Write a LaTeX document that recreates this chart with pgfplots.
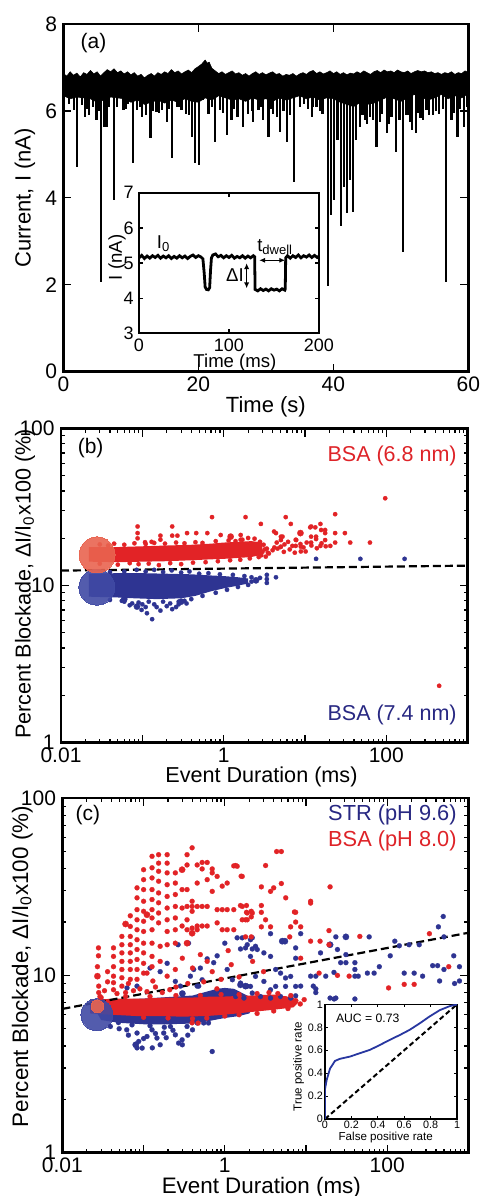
\documentclass[border=0pt]{standalone}
\usepackage{fontspec}
\setmainfont{Liberation Sans}
\usepackage{pgfplots}
\pgfplotsset{compat=1.18}
\usetikzlibrary{arrows.meta}

\definecolor{myred}{RGB}{226,35,38}
\definecolor{myblue}{RGB}{46,52,146}
\definecolor{bigred}{RGB}{233,100,80}
\definecolor{bigblue}{RGB}{64,74,164}
\definecolor{txtred}{RGB}{222,35,40}
\definecolor{txtblue}{RGB}{40,40,130}
\definecolor{rocblue}{RGB}{40,55,160}

\pgfplotsset{
  panel/.style={scale only axis, anchor=south west,
    axis line style={line width=1.2pt},
    tick style={black, line width=0.6pt},
    major tick length=4pt, minor tick length=2pt,
    tick label style={font=\fontsize{10.5}{12}\selectfont},
    label style={font=\fontsize{11}{13}\selectfont},
    /pgf/number format/assume math mode=true},
  mainticks/.style={tick label style={inner sep=0.5pt},
    xticklabel style={yshift=-2pt}, yticklabel style={xshift=-2.5pt}},
  logpanel/.style={panel, mainticks,
    xmin=0.01, xmax=1000, ymin=1, ymax=100,
    xtick={0.01,0.1,1,10,100,1000}, xticklabels={0.01,,1,,100,},
    minor xtick={0.02,0.03,0.04,0.05,0.06,0.07,0.08,0.09,0.2,0.3,0.4,0.5,0.6,0.7,0.8,0.9,2,3,4,5,6,7,8,9,20,30,40,50,60,70,80,90,200,300,400,500,600,700,800,900},
    ytick={1,10,100}, yticklabels={1,10,100},
    minor ytick={2,3,4,5,6,7,8,9,20,30,40,50,60,70,80,90},
    xlabel={Event Duration (ms)},
    ylabel={Percent Blockade, ΔI/I\textsubscript{0}x100 (\%)}},
  dot/.style={only marks, mark=*, mark size=1.1pt, color=#1, mark options={solid, line width=0.1pt}},
  mdot/.style={only marks, mark=*, mark size=1.6pt, color=#1, mark options={solid, line width=0.1pt}},
  big/.style={only marks, mark=*, color=#1, mark options={solid, line width=0pt, opacity=0.9}},
}

\begin{document}
\begin{tikzpicture}
\useasboundingbox (0,0) rectangle (240pt,598pt);

% ---------------- (a) current trace
\begin{axis}[panel, mainticks, at={(31.7pt,412.2pt)}, width=202.5pt, height=173.8pt,
  xmin=0, xmax=60, ymin=0, ymax=8, xtick={0,20,40,60}, ytick={0,2,4,6,8},
  xlabel={Time (s)}, ylabel={Current, I (nA)},
  xlabel style={at={(axis description cs:0.5,-0.1015)}, anchor=center},
  ylabel style={at={(axis description cs:-0.095,0.5)}, anchor=center}]
% noise band: upper edge then lower edge
\addplot[fill=black, draw=black, line width=0.3pt] coordinates {
(0,6.86) (0.5,6.8) (1,6.9) (1.5,6.82) (2,6.87) (2.5,6.78) (3,6.88) (3.5,6.84) (4,6.93) (4.5,6.85)
(5,6.9) (5.5,6.8) (6,6.88) (6.5,6.95) (7,6.9) (7.5,6.97) (8,6.88) (8.5,6.92) (9,6.85) (9.5,6.9)
(10,6.83) (10.5,6.88) (11,6.8) (11.5,6.84) (12,6.76) (12.5,6.82) (13,6.86) (13.5,6.8) (14,6.88) (14.5,6.84)
(15,6.9) (15.5,6.86) (16,6.95) (16.5,6.88) (17,6.92) (17.5,6.85) (18,6.9) (18.5,6.94) (19,6.88) (19.5,6.97)
(20,7.02) (20.5,7.08) (21,7.17) (21.3,7.1) (21.6,7.12) (22,6.98) (22.5,6.92) (23,6.86) (23.5,6.9) (24,6.84)
(24.5,6.88) (25,6.92) (25.5,6.85) (26,6.88) (26.5,6.82) (27,6.86) (27.5,6.8) (28,6.86) (28.5,6.9) (29,6.84)
(29.5,6.88) (30,6.83) (30.5,6.87) (31,6.9) (31.5,6.84) (32,6.86) (32.5,6.8) (33,6.84) (33.5,6.82) (34,6.86)
(34.5,6.8) (35,6.85) (35.5,6.88) (36,6.84) (36.5,6.9) (37,6.93) (37.5,6.86) (38,6.9) (38.5,6.85) (39,6.88)
(39.5,6.92) (40,6.86) (40.5,6.9) (41,6.84) (41.5,6.88) (42,6.83) (42.5,6.87) (43,6.85) (43.5,6.9) (44,6.86)
(44.5,6.92) (45,6.88) (45.5,6.84) (46,6.9) (46.5,6.93) (47,6.88) (47.5,6.94) (48,6.9) (48.5,6.92) (49,6.88)
(49.5,6.94) (50,6.9) (50.5,6.88) (51,6.92) (51.5,6.86) (52,6.9) (52.5,6.93) (53,6.9) (53.5,6.92) (54,6.88)
(54.5,6.9) (55,6.86) (55.5,6.88) (56,6.84) (56.5,6.88) (57,6.86) (57.5,6.9) (58,6.84) (58.5,6.88) (59,6.86)
(59.5,6.92) (60,6.88)
(60,6.4) (59,6.3) (58,6.35) (57,6.28) (56,6.38) (55,6.3) (54,6.25) (53,6.32) (52,6.38) (51,6.3)
(50,6.22) (49,6.28) (48,6.32) (47,6.25) (46,6.18) (45,6.15) (44,6.2) (43,6.1) (42,6.15) (41,6.2)
(40,6.28) (39,6.3) (38,6.25) (37,6.32) (36,6.28) (35,6.35) (34,6.3) (33,6.25) (32,6.3) (31,6.22)
(30,6.28) (29,6.25) (28,6.3) (27,6.22) (26,6.28) (25,6.25) (24,6.3) (23,6.35) (22,6.25) (21,6.3)
(20,6.2) (19,6.22) (18,6.28) (17,6.2) (16,6.25) (15,6.18) (14,6.25) (13,6.2) (12,6.15) (11,6.25)
(10,6.2) (9,6.28) (8,6.3) (7,6.32) (6,6.25) (5,6.2) (4,6.28) (3,6.3) (2,6.32) (1,6.28) (0,6.35)};
% blockade spikes (start of event, deepest current)
\addplot[black, line width=1.1pt, unbounded coords=jump] coordinates {
(0.35,6.5) (0.35,6.4) (0.35,nan) (0.8,6.5) (0.8,6.15) (0.8,nan) (1.23,6.5) (1.23,6.29) (1.23,nan)
(1.6,6.5) (1.6,6.02) (1.6,nan) (2.07,6.5) (2.07,4.72) (2.07,nan) (2.7,6.5) (2.7,6.13) (2.7,nan)
(3.2,6.5) (3.2,5.87) (3.2,nan) (3.5,6.5) (3.5,6.05) (3.5,nan) (3.85,6.5) (3.85,5.9) (3.85,nan)
(4.4,6.5) (4.4,6.1) (4.4,nan) (4.9,6.5) (4.9,5.79) (4.9,nan) (5.2,6.5) (5.2,6.0) (5.2,nan)
(5.58,6.5) (5.58,2.07) (5.58,nan) (6.0,6.5) (6.0,5.64) (6.0,nan) (6.4,6.5) (6.4,5.64) (6.4,nan)
(6.8,6.5) (6.8,6.1) (6.8,nan) (7.5,6.5) (7.5,3.95) (7.5,nan) (8.0,6.5) (8.0,6.1) (8.0,nan)
(8.9,6.5) (8.9,6.02) (8.9,nan) (9.2,6.5) (9.2,6.05) (9.2,nan) (9.5,6.5) (9.5,6.17) (9.5,nan)
(10.27,6.5) (10.27,4.79) (10.27,nan) (10.96,6.5) (10.96,6.02) (10.96,nan) (11.3,6.5) (11.3,6.1) (11.3,nan)
(11.6,6.5) (11.6,5.87) (11.6,nan) (12.25,6.5) (12.25,5.9) (12.25,nan) (12.9,6.5) (12.9,5.37) (12.9,nan)
(13.3,6.5) (13.3,6.0) (13.3,nan) (13.8,6.5) (13.8,5.98) (13.8,nan) (14.2,6.5) (14.2,5.95) (14.2,nan)
(14.57,6.5) (14.57,6.02) (14.57,nan) (15.3,6.5) (15.3,5.75) (15.3,nan) (15.7,6.5) (15.7,6.05) (15.7,nan)
(16.1,6.5) (16.1,4.91) (16.1,nan) (16.8,6.5) (16.8,6.1) (16.8,nan) (17.2,6.5) (17.2,6.1) (17.2,nan)
(17.5,6.5) (17.5,6.02) (17.5,nan) (18.2,6.5) (18.2,5.94) (18.2,nan) (18.6,6.5) (18.6,5.9) (18.6,nan)
(19.0,6.5) (19.0,5.41) (19.0,nan) (19.5,6.5) (19.5,4.81) (19.5,nan) (20.1,6.5) (20.1,4.75) (20.1,nan)
(20.7,6.5) (20.7,6.25) (20.7,nan) (21.5,6.5) (21.5,5.94) (21.5,nan) (22.0,6.5) (22.0,6.1) (22.0,nan)
(22.5,6.5) (22.5,5.29) (22.5,nan) (23.2,6.5) (23.2,6.02) (23.2,nan) (23.7,6.5) (23.7,5.95) (23.7,nan)
(24.2,6.5) (24.2,5.44) (24.2,nan) (24.9,6.5) (24.9,5.79) (24.9,nan) (25.3,6.5) (25.3,6.05) (25.3,nan)
(25.8,6.5) (25.8,5.87) (25.8,nan) (26.6,6.5) (26.6,5.64) (26.6,nan) (27.4,6.5) (27.4,5.94) (27.4,nan)
(27.9,6.5) (27.9,6.0) (27.9,nan) (28.1,6.5) (28.1,5.75) (28.1,nan) (28.9,6.5) (28.9,6.02) (28.9,nan)
(29.2,6.5) (29.2,6.1) (29.2,nan) (29.6,6.5) (29.6,5.79) (29.6,nan) (30.4,6.5) (30.4,5.41) (30.4,nan)
(30.8,6.5) (30.8,6.05) (30.8,nan) (31.1,6.5) (31.1,5.94) (31.1,nan) (31.6,6.5) (31.6,5.85) (31.6,nan)
(32.1,6.5) (32.1,5.52) (32.1,nan) (32.6,6.5) (32.6,6.0) (32.6,nan) (33.1,6.5) (33.1,5.29) (33.1,nan)
(33.6,6.5) (33.6,5.9) (33.6,nan) (34.2,6.5) (34.2,4.37) (34.2,nan) (35.0,6.5) (35.0,6.1) (35.0,nan)
(35.65,6.5) (35.65,6.17) (35.65,nan) (36.2,6.5) (36.2,6.05) (36.2,nan) (36.8,6.5) (36.8,5.87) (36.8,nan)
(37.0,6.5) (37.0,6.1) (37.0,nan) (37.5,6.5) (37.5,6.1) (37.5,nan) (38.0,6.5) (38.0,6.0) (38.0,nan)
(38.4,6.5) (38.4,5.94) (38.4,nan) (39.2,6.5) (39.2,1.96) (39.2,nan) (39.7,6.5) (39.7,3.6) (39.7,nan)
(40.1,6.5) (40.1,3.95) (40.1,nan) (40.6,6.5) (40.6,5.33) (40.6,nan) (41.1,6.5) (41.1,3.34) (41.1,nan)
(41.6,6.5) (41.6,4.26) (41.6,nan) (42.0,6.5) (42.0,3.64) (42.0,nan) (42.5,6.5) (42.5,4.41) (42.5,nan)
(42.9,6.5) (42.9,3.68) (42.9,nan) (43.4,6.5) (43.4,5.33) (43.4,nan) (43.95,6.5) (43.95,5.64) (43.95,nan)
(44.3,6.5) (44.3,5.9) (44.3,nan) (44.7,6.5) (44.7,5.79) (44.7,nan) (45.0,6.5) (45.0,5.7) (45.0,nan)
(45.4,6.5) (45.4,5.87) (45.4,nan) (45.9,6.5) (45.9,5.8) (45.9,nan) (46.4,6.5) (46.4,5.18) (46.4,nan)
(46.9,6.5) (46.9,5.75) (46.9,nan) (47.2,6.5) (47.2,5.94) (47.2,nan) (47.9,6.5) (47.9,5.48) (47.9,nan)
(48.2,6.5) (48.2,5.7) (48.2,nan) (48.6,6.5) (48.6,5.87) (48.6,nan) (49.3,6.5) (49.3,5.06) (49.3,nan)
(49.8,6.5) (49.8,5.8) (49.8,nan) (50.3,6.5) (50.3,2.76) (50.3,nan) (50.8,6.5) (50.8,5.9) (50.8,nan)
(51.0,6.5) (51.0,5.9) (51.0,nan) (51.3,6.5) (51.3,5.75) (51.3,nan) (51.6,6.5) (51.6,5.56) (51.6,nan)
(52.2,6.5) (52.2,5.48) (52.2,nan) (52.5,6.5) (52.5,5.95) (52.5,nan) (52.9,6.5) (52.9,5.83) (52.9,nan)
(53.3,6.5) (53.3,5.8) (53.3,nan) (53.8,6.5) (53.8,6.02) (53.8,nan) (54.2,6.5) (54.2,5.9) (54.2,nan)
(54.8,6.5) (54.8,5.9) (54.8,nan) (55.2,6.5) (55.2,6.0) (55.2,nan) (55.6,6.5) (55.6,5.94) (55.6,nan)
(56.2,6.5) (56.2,6.05) (56.2,nan) (56.7,6.5) (56.7,2.07) (56.7,nan) (57.5,6.5) (57.5,5.79) (57.5,nan)
(57.9,6.5) (57.9,5.95) (57.9,nan) (58.4,6.5) (58.4,5.41) (58.4,nan) (58.8,6.5) (58.8,6.05) (58.8,nan)
(59.3,6.5) (59.3,5.64) (59.3,nan) (59.75,6.5) (59.75,6.1)};
\node[anchor=west, font=\fontsize{10.5}{12}\selectfont] at (axis description cs:0.025,0.945) {(a)};
\end{axis}

% ---------------- (a) inset
\begin{axis}[panel, at={(69.5pt,431.3pt)}, width=90pt, height=70.3pt,
  xmin=0, xmax=200, ymin=3, ymax=7, xtick={0,100,200}, ytick={3,4,5,6,7},
  axis line style={line width=0.9pt}, major tick length=2pt,
  axis background/.style={fill=white},
  tick label style={font=\fontsize{9}{10}\selectfont, inner sep=0.5pt},
  xticklabel style={yshift=-2pt}, yticklabel style={xshift=-2pt},
  label style={font=\fontsize{9.3}{10}\selectfont, inner sep=0.5pt},
  xlabel={Time (ms)}, ylabel={I (nA)},
  xlabel style={at={(axis description cs:0.533,-0.205)}, anchor=center},
  ylabel style={at={(axis description cs:-0.122,0.54)}, anchor=center}]
\addplot[black, line width=1.4pt] coordinates {
(0,5.15) (3,5.22) (6,5.13) (9,5.2) (12,5.14) (15,5.21) (18,5.16) (21,5.22) (24,5.14) (27,5.2)
(30,5.15) (33,5.21) (36,5.13) (39,5.19) (42,5.14) (45,5.21) (48,5.15) (51,5.2) (54,5.13) (57,5.19)
(60,5.23) (63,5.16) (66,5.21) (69,5.17) (71,5.12) (72.5,4.7) (73.5,4.32) (75,4.25) (77,4.24) (78.5,4.3)
(79.5,4.8) (80.5,5.15) (82,5.23) (85,5.26) (88,5.18) (91,5.22) (94,5.15) (97,5.21) (100,5.16) (103,5.22)
(106,5.14) (109,5.19) (112,5.15) (115,5.21) (118,5.14) (121,5.2) (124,5.15) (127,5.21) (128.5,5.18) (129,4.25)
(132,4.21) (135,4.27) (138,4.22) (141,4.26) (144,4.21) (147,4.27) (150,4.23) (153,4.26) (156,4.21) (159,4.27)
(162,4.23) (162.5,4.26) (163,5.15) (165,5.21) (168,5.14) (171,5.21) (174,5.16) (177,5.23) (180,5.15) (183,5.21)
(186,5.17) (189,5.23) (192,5.16) (195,5.22) (198,5.16) (200,5.2)};
\draw[{Latex[length=3pt,width=2.6pt]}-{Latex[length=3pt,width=2.6pt]}, line width=0.6pt]
  (axis cs:133.5,5.08) -- (axis cs:162.5,5.08);
\draw[{Latex[length=3pt,width=2.6pt]}-{Latex[length=3pt,width=2.6pt]}, line width=0.6pt]
  (axis cs:119.6,5.0) -- (axis cs:119.6,4.28);
\node[anchor=base west, font=\fontsize{9.3}{10}\selectfont, inner sep=0pt] at (axis cs:19.5,5.42) {I\textsubscript{0}};
\node[anchor=base west, font=\fontsize{9.3}{10}\selectfont, inner sep=0pt] at (axis cs:131,5.34) {t\textsubscript{dwell}};
\node[anchor=east, font=\fontsize{9.3}{10}\selectfont, inner sep=0.5pt] at (axis cs:118,4.66) {ΔI};
\end{axis}

% ---------------- (b) BSA at two pore sizes
\begin{loglogaxis}[logpanel, at={(30.5pt,226.7pt)}, width=203.3pt, height=157pt,
  label style={font=\fontsize{10.8}{13}\selectfont},
  xlabel style={at={(axis description cs:0.493,-0.108)}, anchor=center},
  ylabel style={at={(axis description cs:-0.0885,0.505)}, anchor=center}]
% blue: BSA (7.4 nm)
\addplot[fill=myblue, draw=none] coordinates {
(0.022,11.9) (0.05,12.0) (0.1,12.0) (0.2,11.9) (0.4,11.8) (0.7,11.6) (1.0,11.5) (1.5,11.3) (2.0,11.1)
(2.0,10.3) (1.5,10.0) (1.0,9.6) (0.7,9.2) (0.45,8.6) (0.3,8.3) (0.15,8.2) (0.08,8.3) (0.05,8.4) (0.022,8.5)};
\addplot[dot=myblue] coordinates {
(0.04,12.2) (0.06,12.3) (0.085,12.6) (0.11,12.3) (0.14,12.6) (0.18,12.2) (0.23,12.5) (0.3,12.1)
(0.38,12.3) (0.5,11.9) (0.65,12.0) (0.9,11.8) (1.3,11.7) (1.8,11.5) (2.2,11.3)
(0.04,8.1) (0.06,7.9) (0.075,7.7) (0.09,7.8) (0.1,7.6) (0.12,7.9) (0.14,7.6) (0.18,7.9) (0.22,7.7)
(0.28,7.9) (0.33,8.0) (0.4,8.2) (0.55,8.6) (0.8,9.0) (1.1,9.4) (1.5,9.8) (2.0,10.1)
(0.098,7.0) (0.114,6.67) (0.132,6.11) (0.167,6.93) (0.233,7.08) (0.28,7.6) (0.056,8.0) (0.11,7.3) (0.2,7.4)
(0.07,7.5) (0.15,7.3) (0.26,7.3) (0.35,7.7)
(3.4,10.4) (3.4,11.0) (3.4,11.7) (4.4,11.3) (2.2,10.6) (2.8,11.2)
(13.7,14.8) (48,14.8) (168,14.8)};
\addplot[mdot=myblue] coordinates {(0.086,7.35) (2.5,10.8) (0.3,7.9) (0.06,8.2)};
\addplot[big=bigblue, mark size=9pt] coordinates {(0.0276,9.77)};
% red: BSA (6.8 nm)
\addplot[fill=myred, draw=none] coordinates {
(0.022,17.6) (0.05,17.6) (0.1,17.8) (0.2,18.0) (0.4,18.2) (0.7,18.5) (1.0,18.8) (1.5,19.0) (2.2,19.2) (3.0,18.8)
(3.0,15.8) (2.2,15.2) (1.5,15.0) (1.0,14.8) (0.7,14.7) (0.4,14.5) (0.2,14.3) (0.1,14.2) (0.05,14.1) (0.022,14.2)};
\addplot[dot=myred] coordinates {
(0.03,18.3) (0.038,18.0) (0.045,18.5) (0.06,18.2) (0.08,18.6) (0.11,18.4) (0.14,18.7) (0.19,18.5)
(0.26,18.8) (0.33,18.6) (0.45,18.9) (0.55,18.7) (0.8,19.2) (1.15,19.4) (1.4,19.2) (1.7,19.6) (2.0,20.1)
(2.4,19.9) (2.8,19.0) (3.1,18.2) (3.4,17.2) (3.0,16.4) (3.6,16.0) (4.2,17.5) (4.5,18.8) (5.0,17.6)
(5.6,18.3) (6.2,19.0) (7.0,17.9) (7.8,19.5) (8.8,18.4) (9.6,17.5) (10.5,18.8) (12,18.0) (14,17.3)
(16,18.6) (18,17.8) (3.2,17.0) (3.5,16.2) (4.0,16.8) (4.6,17.2) (5.5,16.4) (6.5,17.0) (7.5,16.2)
(2.9,15.6) (3.3,15.3)
(0.03,13.8) (0.05,13.6) (0.07,13.9) (0.09,13.7) (0.12,13.8) (0.16,13.5) (0.22,13.9) (0.3,13.7)
(0.42,14.0) (0.6,14.1) (0.85,14.3) (1.2,14.5) (1.6,14.6) (2.1,14.9) (2.7,15.2)
(0.0875,23.8) (0.0875,21.6) (0.0875,20.0) (0.233,23.8) (0.233,20.8) (0.72,27.3) (1.86,27.3) (5.8,27.3)
(0.355,21.6) (0.46,21.6) (0.63,21.6) (0.167,20.8) (0.167,19.6) (0.27,20.8) (0.92,21.0) (1.62,21.0)
(1.62,19.6) (2.87,24.7) (6.7,24.7) (4.17,22.1) (5.3,20.5) (11.9,23.8) (0.108,18.9) (0.13,19.0)
(4.4,21.6) (5.06,20.5) (5.06,19.5) (5.06,17.7) (11.6,23.5) (13.4,23.5) (15.5,24.7) (23.5,28.5)
(11.9,20.5) (13.7,20.5) (15.8,22.6) (17.7,22.6) (17.7,21.6) (11.9,18.8) (13.7,19.8) (17.7,19.5)
(15.5,17.9) (20.5,17.9) (23.5,21.6) (23.5,18.8) (31,21.6) (36,18.8) (63,18.8) (7.7,19.6) (7.7,17.9)
(8.9,17.7) (8.9,16.5) (10.2,16.5) (97,36) (447,2.3)};
\addplot[mdot=myred] coordinates {(1.22,20.5) (8.8,21.6)};
\addplot[big=bigred, mark size=9pt] coordinates {(0.0278,15.7)};
\addplot[black, line width=1.1pt, dash pattern=on 4pt off 2pt] coordinates {(0.01,12.46) (1000,13.4)};
\node[anchor=west, font=\fontsize{10.5}{12}\selectfont] at (axis description cs:0.024,0.937) {(b)};
\node[anchor=east, font=\fontsize{10.75}{12}\selectfont, text=txtred, inner sep=0pt] at (axis description cs:0.974,0.912) {BSA (6.8 nm)};
\node[anchor=east, font=\fontsize{10.75}{12}\selectfont, text=txtblue, inner sep=0pt] at (axis description cs:0.974,0.088) {BSA (7.4 nm)};
\end{loglogaxis}

% ---------------- (c) STR vs BSA
\begin{loglogaxis}[logpanel, at={(31.2pt,21.7pt)}, width=203pt, height=177.2pt,
  label style={font=\fontsize{11.2}{13}\selectfont},
  xlabel style={at={(axis description cs:0.49,-0.098)}, anchor=center},
  ylabel style={at={(axis description cs:-0.099,0.525)}, anchor=center}]
% blue: STR (pH 9.6)
\addplot[big=bigblue, mark size=8pt] coordinates {(0.0266,6.0)};
\addplot[fill=myblue, draw=none] coordinates {
(0.022,7.2) (0.1,7.4) (0.4,7.7) (0.6,8.1) (0.8,8.4) (1.0,8.5) (1.3,8.4) (1.6,8.0) (2.0,7.6) (2.3,6.8)
(2.0,6.1) (1.5,5.9) (1.0,5.75) (0.6,5.5) (0.4,5.35) (0.2,5.3) (0.1,5.3) (0.05,5.4) (0.03,5.6)};
\addplot[dot=myblue, mark size=1.25pt] coordinates {
(0.266,14.9) (0.358,15.2) (0.805,12.9) (1.42,16.3) (1.64,16.3) (2.18,16.3) (1.89,14.9) (1.56,14.1)
(2.18,14.1) (2.51,14.0) (1.0,15.2) (0.607,12.4) (0.73,11.8) (0.5,11.0) (0.414,10.8) (0.377,9.9)
(0.526,9.45) (0.477,8.7) (1.07,10.8) (1.24,9.45) (1.56,9.05) (1.89,8.7) (2.18,7.95) (1.07,7.95)
(1.36,7.6) (1.72,7.45) (0.12,11.0) (0.16,10.5) (0.195,11.7) (0.246,9.25) (0.284,8.7) (0.457,8.7)
(0.083,8.7) (0.0625,8.5)
(490,21.5) (427,18.8) (500,16.5) (23.3,16.5) (60,16.5) (8.6,17.2) (3.66,17.2) (7.46,14.3) (7.46,12.5)
(15.1,13.4) (24.4,14.0) (31,13.1) (26.7,11.8) (31,11.8) (40,11.8) (40,10.8) (40,9.9) (44,9.9) (57,10.3)
(69,10.3) (80,11.2) (109,12.9) (124,15.6) (141,14.7) (186,14.9) (248,14.9) (162,10.3) (215,10.3)
(273,9.9) (363,11.35) (418,11.35) (500,10.8) (660,12.9) (776,11.2) (442,9.3) (676,9.0) (776,9.3)
(11.4,9.9) (13.2,9.9) (17.5,9.9) (22.1,10.4) (23.3,7.45) (19.8,7.45) (12.3,8.7) (13.2,8.0) (8.6,8.7)
(6.47,7.45) (22.2,7.36) (13.2,8.4) (40,7.36)
(2.07,15.9) (2.39,14.6) (1.8,14.3) (2.07,12.8) (3.03,13.4) (3.66,12.8) (4.23,10.8) (4.86,10.3)
(5.6,9.67) (6.47,9.87) (7.46,8.67) (5.6,8.67) (4.23,8.67) (3.66,8.3) (3.03,9.25) (2.39,9.87)
(2.07,8.67) (2.75,7.6) (3.66,7.45) (4.86,7.6) (7.46,7.67)
(0.039,5.15) (0.049,5.42) (0.062,4.93) (0.072,5.26) (0.083,4.73) (0.087,4.24) (0.096,3.89) (0.11,4.52)
(0.127,4.93) (0.146,4.43) (0.16,4.06) (0.177,4.73) (0.214,5.15) (0.246,4.62) (0.27,4.15) (0.298,4.33)
(0.343,5.15) (0.4,4.93) (0.70,3.72) (0.457,5.39) (0.55,5.39) (0.63,5.39) (0.083,3.9) (0.128,3.9)
(0.3,4.06) (0.05,5.0) (0.065,4.6) (0.1,4.4) (0.14,4.7) (0.19,4.45) (0.23,4.9) (0.35,4.6) (0.18,5.1) (0.12,5.2)};
\addplot[mdot=myblue] coordinates {(31,16.5) (19.8,14.9) (5.1,15.6) (5.5,15.6) (1.56,8.85) (1.8,8.7) (0.08,4.06) (0.3,7.9) (0.9,8.0)};
% red: BSA (pH 8.0)
\addplot[fill=myred, draw=none] coordinates {
(0.022,7.3) (0.05,7.4) (0.1,7.4) (0.2,7.5) (0.4,7.5) (0.7,7.6) (1.0,7.6) (2.0,7.7) (4.0,7.8) (7.0,7.5) (8,7.0)
(7.0,6.6) (4.0,6.4) (2.0,6.2) (1.0,6.0) (0.6,5.9) (0.3,5.85) (0.15,5.9) (0.08,5.9) (0.04,6.0) (0.022,6.1)};
\addplot[dot=myred, mark size=1.25pt] coordinates {
(0.0426,14.3) (0.0426,12.8) (0.0426,11.2) (0.0426,9.9) (0.0426,9.1) (0.0426,8.3)
(0.054,16.6) (0.054,14.9) (0.054,13.4) (0.054,12.0) (0.054,10.8) (0.054,9.7) (0.054,8.7)
(0.0686,21.7) (0.0686,18.9) (0.0686,16.6) (0.0686,14.9) (0.0686,13.4) (0.0686,12.0) (0.0686,10.8) (0.0686,9.5)
(0.083,31.2) (0.083,27.4) (0.083,23.5) (0.083,20.6) (0.083,18.1) (0.083,15.9) (0.083,14.0) (0.083,12.3) (0.083,10.8) (0.083,9.5)
(0.1,39.5) (0.1,34.7) (0.1,30.5) (0.1,26.2) (0.1,23.0) (0.1,20.2) (0.1,17.7) (0.1,15.2) (0.1,13.4) (0.1,11.7) (0.1,10.3)
(0.127,47) (0.127,40.5) (0.127,35.5) (0.127,30.5) (0.127,26.8) (0.127,23.5) (0.127,21.1) (0.127,18.1) (0.127,15.2) (0.127,12.8)
(0.153,48) (0.153,43) (0.153,38.7) (0.153,34) (0.153,29.2) (0.153,25.7) (0.153,22.5) (0.153,19.8)
(0.195,48) (0.195,43) (0.195,37.9) (0.195,32.5) (0.195,27.9) (0.195,24.0) (0.195,20.6) (0.195,17.7) (0.195,14.9)
(0.246,37.9) (0.246,33.2) (0.246,28.6) (0.246,24.5) (0.246,21.1) (0.246,18.1) (0.246,15.2)
(0.298,30.5) (0.298,24.0) (0.298,19.0)
(0.343,48) (0.343,42) (0.343,30.5) (0.343,24.5) (0.343,20.6) (0.343,18.1)
(0.396,52.5) (0.396,26.2) (0.396,24.5) (0.396,23.0) (0.396,18.5)
(0.457,42) (0.457,33.2) (0.457,24.5) (0.457,19.0) (0.457,18.1)
(0.526,43.4) (0.526,39.9) (0.526,24.5) (0.526,19.0)
(0.607,43.4) (0.607,34.7) (0.607,24.5) (0.607,19.0)
(0.70,39.9) (0.70,37.9) (0.70,29.8)
(0.805,36.2) (0.805,23.5) (0.805,19.8)
(0.93,31.9) (0.93,23.5) (0.93,18.1)
(1.07,33.2) (1.07,23.5) (1.07,18.1)
(1.29,41.5) (1.29,23.5) (1.29,18.1)
(1.64,36.2) (1.64,24.5) (1.64,20.6)
(1.89,22.5) (1.89,20.6) (2.18,22.5)
(0.16,14.6) (0.5,13.1) (0.607,12.0) (0.16,12.0) (0.127,11.2) (0.11,10.3) (0.195,9.9) (0.246,10.8)
(0.3,12.5) (0.4,11.0) (0.7,10.5) (0.9,9.5) (1.2,11.5) (0.55,9.2) (0.25,8.6) (0.35,9.0) (0.8,8.4)
(1.5,9.8) (2.2,12.0) (3,10.5) (1.1,13.8) (0.036,10.5) (0.036,9.2) (0.033,8.2) (0.047,7.9) (0.06,8.0)
(0.075,8.2) (0.09,8.4) (0.11,8.1) (0.14,8.6) (0.17,8.0) (0.21,8.3) (0.13,9.3) (0.065,9.0)
(1.36,41.7) (1.59,36.3) (3.18,41.7) (4.35,50) (4.97,50) (2.82,31.6) (3.66,29.8) (4.97,33) (5.63,27.4)
(11.4,26.2) (19.8,31.6) (1.56,24.8) (1.85,24.8) (1.85,22.7) (2.12,21.4) (1.8,20.6) (2.12,23) (2.82,24.8)
(2.82,22.7) (3.18,20.6) (7.46,22.7) (7.46,20) (6.47,18.8) (8.6,18.8) (2.82,18.8) (3.66,18.8) (19.2,17.9)
(19.2,14.9) (6.3,16.5) (1.8,16.5) (2.12,16.5) (14.9,15.6) (46,16.6) (331,17.2) (573,11.2) (104,8.5)
(162,8.9) (215,8.9) (24.4,10.0) (34,9.9) (11.4,15.6) (7.2,22.8) (4.0,31.2) (1.42,41.3) (11.4,25.6)
(8.6,12.5) (14.5,10.3)
(4.5,7.9) (5.5,7.4) (6.5,7.7) (7.5,7.2) (8.5,6.9) (9.5,7.3) (6.0,6.8) (3.5,8.0) (2.5,7.9) (1.5,7.8)
(0.9,7.8) (0.5,7.7) (0.25,7.7) (0.12,7.6) (0.06,7.6) (0.03,7.5)
(0.4,5.7) (0.6,5.75) (1.0,5.9) (1.5,6.0) (2.5,6.1) (4,6.3) (6,6.5) (0.396,5.4) (0.47,5.38) (0.2,5.75) (0.1,5.8)
(0.0278,14.3) (0.0278,12.9) (0.028,8.7) (0.028,8.0) (0.029,7.6) (0.027,11.2)};
\addplot[mdot=myred] coordinates {(0.298,39.5) (0.396,17.3) (0.343,15.2) (0.027,9.9) (0.11,22.0) (0.06,19.5)};
\addplot[big=bigred, mark size=3.2pt] coordinates {(0.027,6.7)};
\addplot[black, line width=1.1pt, dash pattern=on 4pt off 2pt] coordinates {(0.01,6.47) (1000,17.4)};
\node[anchor=west, font=\fontsize{10.5}{12}\selectfont] at (axis description cs:0.015,0.953) {(c)};
\node[anchor=east, font=\fontsize{10.9}{12}\selectfont, text=txtblue, inner sep=0pt] at (axis description cs:0.972,0.953) {STR (pH 9.6)};
\node[anchor=east, font=\fontsize{10.9}{12}\selectfont, text=txtred, inner sep=0pt] at (axis description cs:0.972,0.88) {BSA (pH 8.0)};
\end{loglogaxis}

% ---------------- (c) inset: ROC curve
\begin{axis}[panel, at={(162.5pt,38.5pt)}, width=66pt, height=57.3pt,
  xmin=0, xmax=1, ymin=0, ymax=1,
  xtick={0,0.2,0.4,0.6,0.8,1}, ytick={0,0.2,0.4,0.6,0.8,1},
  xticklabels={0,0.2,0.4,0.6,0.8,1}, yticklabels={0,0.2,0.4,0.6,0.8,1},
  axis line style={line width=0.7pt}, major tick length=1.5pt, tick style={line width=0.4pt},
  axis background/.style={fill=white},
  tick label style={font=\fontsize{5.4}{6}\selectfont, inner sep=0.8pt},
  label style={font=\fontsize{5.8}{6.5}\selectfont, inner sep=0pt},
  xlabel={False positive rate}, ylabel={True positive rate},
  xlabel style={at={(axis description cs:0.46,-0.165)}, anchor=center},
  ylabel style={at={(axis description cs:-0.2,0.456)}, anchor=center}]
\addplot[black, line width=1pt, dash pattern=on 2.5pt off 1.5pt] coordinates {(0,0) (1,1)};
\addplot[rocblue, line width=0.9pt] coordinates {
(0,0) (0,0.26) (0.0126,0.34) (0.038,0.44) (0.076,0.507) (0.113,0.525) (0.19,0.545) (0.264,0.574)
(0.34,0.603) (0.416,0.646) (0.49,0.69) (0.567,0.733) (0.64,0.777) (0.718,0.835) (0.79,0.893)
(0.87,0.95) (0.945,0.985) (1,1)};
\node[anchor=west, font=\fontsize{6.1}{7}\selectfont] at (axis description cs:0.03,0.88) {AUC = 0.73};
\end{axis}
\end{tikzpicture}
\end{document}
